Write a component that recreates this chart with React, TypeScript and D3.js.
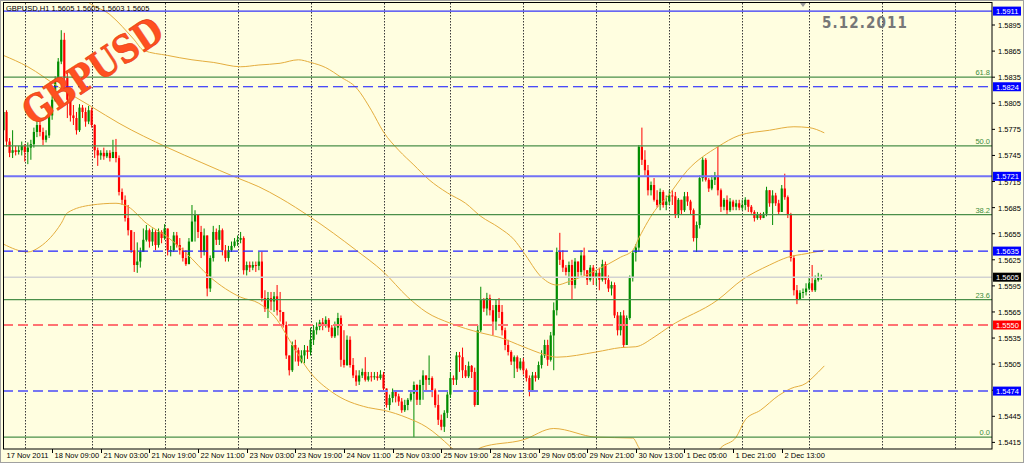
import React, { useEffect } from 'react';
import * as d3 from 'd3';

// GBPUSD H1, 17 Nov - 2 Dec 2011. One value per hourly bar, open = previous close.
const firstOpen = 1.5774;
const closes = [
  1.5795, 1.5761, 1.5748, 1.5751, 1.5749, 1.5751, 1.5756, 1.5749, 1.5754, 1.5758,
  1.5772, 1.578, 1.5772, 1.5763, 1.5768, 1.5791, 1.5809, 1.5832, 1.5853, 1.5878,
  1.5834, 1.5809, 1.5791, 1.5788, 1.5774, 1.58, 1.5795, 1.5784, 1.5797, 1.578,
  1.5751, 1.5745, 1.5748, 1.5744, 1.5748, 1.5742, 1.5749, 1.5742, 1.5703, 1.5694,
  1.5673, 1.5659, 1.5636, 1.5619, 1.5623, 1.5634, 1.5648, 1.5659, 1.5646, 1.5657,
  1.5642, 1.5657, 1.565, 1.5661, 1.5636, 1.5636, 1.5653, 1.5642, 1.5636, 1.5627,
  1.562, 1.5646, 1.5669, 1.5677, 1.5657, 1.5634, 1.5653, 1.5592, 1.5627, 1.5657,
  1.5648, 1.5659, 1.5636, 1.5627, 1.5636, 1.5641, 1.5646, 1.5648, 1.565, 1.5613,
  1.5619, 1.5616, 1.5619, 1.5618, 1.5623, 1.5581, 1.5569, 1.5581, 1.5577, 1.5583,
  1.5567, 1.5565, 1.555, 1.5515, 1.5498, 1.5527, 1.5521, 1.5508, 1.5515, 1.5521,
  1.5519, 1.5533, 1.5544, 1.5548, 1.5553, 1.5551, 1.5556, 1.5547, 1.5537, 1.5547,
  1.5558, 1.551, 1.5504, 1.5533, 1.5504, 1.5492, 1.5485, 1.5492, 1.5496, 1.5487,
  1.5491, 1.549, 1.5491, 1.5489, 1.5493, 1.5477, 1.5458, 1.5466, 1.5473, 1.5468,
  1.5462, 1.5452, 1.5458, 1.5464, 1.5471, 1.5481, 1.5464, 1.5481, 1.5492, 1.5487,
  1.5489, 1.5475, 1.5458, 1.5441, 1.5433, 1.5449, 1.547, 1.5489, 1.5487, 1.5515,
  1.5513, 1.5498, 1.5491, 1.5503, 1.5496, 1.5458, 1.5544, 1.5579, 1.5569, 1.5581,
  1.5567, 1.5554, 1.5573, 1.5565, 1.5544, 1.5527, 1.5519, 1.5508, 1.5513, 1.55,
  1.5508, 1.5498, 1.5489, 1.5473, 1.5492, 1.5489, 1.5504, 1.5515, 1.5527, 1.551,
  1.5538, 1.5567, 1.5634, 1.5625, 1.5616, 1.5611, 1.5619, 1.5596, 1.5623, 1.5611,
  1.563, 1.5613, 1.5602, 1.5616, 1.5604, 1.561, 1.5602, 1.562, 1.5602, 1.5592,
  1.5596, 1.5561, 1.5544, 1.5561, 1.5527, 1.5558, 1.5604, 1.5633, 1.5639, 1.5755,
  1.574, 1.5728, 1.5705, 1.5711, 1.5694, 1.5688, 1.5703, 1.5688, 1.5692, 1.5699,
  1.5698, 1.5677, 1.5694, 1.5682, 1.5698, 1.5692, 1.5682, 1.565, 1.5665, 1.5719,
  1.574, 1.5717, 1.5707, 1.5717, 1.5722, 1.5705, 1.5686, 1.5694, 1.5682, 1.5692,
  1.5686, 1.569, 1.5685, 1.5688, 1.5694, 1.5686, 1.568, 1.5673, 1.5677, 1.5673,
  1.5678, 1.5705, 1.569, 1.5699, 1.569, 1.568, 1.5707, 1.5697, 1.5677, 1.5627,
  1.559, 1.5579, 1.5587, 1.5588, 1.5592, 1.5598, 1.559, 1.5602, 1.5605, 1.5605,
];
const highs = [
  1.58, 1.5797, 1.5765, 1.5774, 1.5756, 1.5756, 1.5761, 1.5758, 1.576, 1.5763,
  1.5777, 1.5786, 1.5784, 1.5777, 1.5774, 1.5797, 1.5813, 1.5836, 1.5857, 1.5889,
  1.5886, 1.5843, 1.5811, 1.5803, 1.5795, 1.5804, 1.5803, 1.58, 1.5802, 1.58,
  1.5781, 1.5754, 1.5751, 1.5754, 1.5751, 1.5751, 1.5763, 1.5764, 1.5745, 1.5707,
  1.5699, 1.5688, 1.5659, 1.5657, 1.5645, 1.5639, 1.5661, 1.5665, 1.5661, 1.5661,
  1.5659, 1.5661, 1.5659, 1.5666, 1.5653, 1.5641, 1.5657, 1.5657, 1.565, 1.5639,
  1.5636, 1.565, 1.5688, 1.5682, 1.5677, 1.5664, 1.5661, 1.5648, 1.563, 1.5664,
  1.5661, 1.5665, 1.5661, 1.5642, 1.5641, 1.5646, 1.565, 1.5653, 1.5657, 1.5652,
  1.5623, 1.5623, 1.5623, 1.5623, 1.5634, 1.5634, 1.559, 1.5588, 1.5588, 1.5588,
  1.5596, 1.5588, 1.5561, 1.5554, 1.5515, 1.5531, 1.5533, 1.5524, 1.5521, 1.5527,
  1.5526, 1.5547, 1.555, 1.5553, 1.5556, 1.5558, 1.556, 1.5558, 1.555, 1.5554,
  1.5564, 1.5561, 1.5544, 1.5538, 1.5537, 1.5512, 1.5498, 1.5498, 1.55, 1.5513,
  1.5496, 1.5496, 1.5496, 1.5496, 1.5498, 1.5496, 1.5477, 1.547, 1.5477, 1.5475,
  1.5471, 1.5466, 1.5464, 1.5466, 1.5475, 1.5485, 1.5482, 1.5487, 1.5498, 1.5492,
  1.5515, 1.5491, 1.5477, 1.547, 1.5447, 1.5452, 1.5475, 1.5496, 1.5492, 1.5519,
  1.5519, 1.5524, 1.5504, 1.5508, 1.5504, 1.5501, 1.555, 1.5594, 1.5581, 1.5587,
  1.5585, 1.5573, 1.5579, 1.5581, 1.5573, 1.5547, 1.5533, 1.5521, 1.5515, 1.5515,
  1.5512, 1.5512, 1.55, 1.5492, 1.5496, 1.5496, 1.5508, 1.5521, 1.5533, 1.5533,
  1.5542, 1.5576, 1.5639, 1.5656, 1.5636, 1.5619, 1.5623, 1.5625, 1.5627, 1.5619,
  1.5636, 1.5639, 1.5611, 1.5619, 1.5619, 1.5613, 1.5616, 1.5625, 1.5623, 1.5607,
  1.56, 1.5599, 1.5565, 1.5565, 1.5567, 1.5561, 1.5607, 1.5636, 1.5643, 1.5757,
  1.5777, 1.5751, 1.5734, 1.5715, 1.5719, 1.5705, 1.5707, 1.5705, 1.5699, 1.5705,
  1.5705, 1.5703, 1.5696, 1.5694, 1.5703, 1.5703, 1.5694, 1.5684, 1.5669, 1.5722,
  1.5743, 1.5742, 1.5719, 1.5722, 1.5726, 1.5755, 1.5707, 1.5696, 1.5699, 1.5696,
  1.5694, 1.5694, 1.5694, 1.5694, 1.5697, 1.5694, 1.5688, 1.5682, 1.568, 1.5679,
  1.568, 1.5709, 1.5703, 1.5705, 1.5702, 1.5694, 1.5711, 1.5724, 1.5699, 1.5679,
  1.563, 1.5596, 1.559, 1.5592, 1.5598, 1.5604, 1.5619, 1.5607, 1.561, 1.5608,
];
const lows = [
  1.5772, 1.5755, 1.5743, 1.5742, 1.5745, 1.5746, 1.5745, 1.5738, 1.5735, 1.574,
  1.5754, 1.5766, 1.5767, 1.5757, 1.576, 1.5765, 1.5786, 1.5807, 1.583, 1.585,
  1.5826, 1.5788, 1.5784, 1.578, 1.5769, 1.5772, 1.5788, 1.5778, 1.5781, 1.5777,
  1.5742, 1.5733, 1.574, 1.574, 1.5742, 1.5738, 1.5742, 1.5737, 1.5699, 1.5688,
  1.5669, 1.5653, 1.5633, 1.5611, 1.561, 1.5616, 1.5634, 1.5646, 1.5639, 1.5641,
  1.5636, 1.5639, 1.5644, 1.5648, 1.563, 1.5629, 1.5634, 1.5639, 1.5631, 1.5623,
  1.5618, 1.5625, 1.5648, 1.5646, 1.565, 1.5627, 1.563, 1.5583, 1.5588, 1.5623,
  1.5642, 1.5642, 1.563, 1.5623, 1.5623, 1.5634, 1.5639, 1.5641, 1.5644, 1.5608,
  1.5607, 1.5611, 1.5613, 1.5611, 1.5613, 1.5577, 1.5565, 1.5558, 1.5567, 1.5565,
  1.5561, 1.5554, 1.5547, 1.5511, 1.5492, 1.5496, 1.5508, 1.5503, 1.5506, 1.5506,
  1.5511, 1.5515, 1.5527, 1.5539, 1.5544, 1.5544, 1.5547, 1.5542, 1.5535, 1.5535,
  1.5538, 1.5502, 1.5501, 1.5503, 1.5501, 1.5489, 1.548, 1.5481, 1.5489, 1.5485,
  1.5485, 1.5485, 1.5487, 1.5486, 1.5487, 1.5473, 1.5455, 1.5452, 1.5461, 1.5461,
  1.5457, 1.5449, 1.545, 1.5452, 1.5462, 1.5421, 1.5458, 1.5458, 1.5464, 1.5473,
  1.5481, 1.5467, 1.5455, 1.5435, 1.5429, 1.5427, 1.5443, 1.5466, 1.5481, 1.5481,
  1.5496, 1.5489, 1.5489, 1.5489, 1.5489, 1.5456, 1.5458, 1.5542, 1.5565, 1.5561,
  1.5561, 1.5538, 1.5544, 1.5558, 1.5538, 1.5521, 1.5515, 1.5504, 1.5489, 1.5496,
  1.5498, 1.5493, 1.5485, 1.5468, 1.5473, 1.5485, 1.5487, 1.55, 1.5512, 1.5503,
  1.5508, 1.5498, 1.5561, 1.5619, 1.5611, 1.5607, 1.5596, 1.5579, 1.5592, 1.5604,
  1.5607, 1.5607, 1.5596, 1.56, 1.5596, 1.5596, 1.559, 1.56, 1.5597, 1.5588,
  1.5584, 1.5558, 1.5538, 1.5538, 1.5524, 1.5527, 1.5556, 1.56, 1.5623, 1.5634,
  1.5734, 1.5722, 1.5699, 1.5699, 1.5692, 1.5685, 1.5682, 1.5685, 1.5682, 1.5688,
  1.5688, 1.5673, 1.5673, 1.5677, 1.568, 1.5687, 1.5677, 1.5646, 1.5634, 1.5661,
  1.5715, 1.5715, 1.5703, 1.5705, 1.5711, 1.5699, 1.568, 1.5682, 1.5677, 1.568,
  1.5682, 1.5682, 1.5682, 1.5682, 1.5682, 1.568, 1.5678, 1.5669, 1.5671, 1.5671,
  1.5673, 1.5675, 1.5686, 1.5665, 1.5687, 1.5677, 1.568, 1.5694, 1.5673, 1.5623,
  1.5584, 1.5574, 1.5581, 1.5581, 1.5584, 1.559, 1.5588, 1.5588, 1.56, 1.5602,
];

// envelope / band indicator, sampled at bar indices
const upperBars = [22, 27, 35, 43, 46, 54, 62, 69, 78, 84, 91, 97, 101, 106, 111, 116, 121, 125, 130, 135, 140, 146, 152, 157, 163, 168, 171, 177, 182, 186, 195, 203, 207, 209, 215, 218, 225, 235, 242, 252, 260, 265, 270];
const upperVals = [1.5947, 1.5924, 1.5907, 1.5878, 1.5866, 1.586, 1.5855, 1.5852, 1.5847, 1.5849, 1.5851, 1.5855, 1.5852, 1.5846, 1.5835, 1.5823, 1.5797, 1.5772, 1.5751, 1.5734, 1.5717, 1.5702, 1.569, 1.5675, 1.5662, 1.5648, 1.5634, 1.5605, 1.5596, 1.56, 1.5613, 1.5628, 1.5636, 1.565, 1.5685, 1.5696, 1.5728, 1.5755, 1.5768, 1.5774, 1.5778, 1.5777, 1.5771];
const middleBars = [0, 8, 18, 29, 38, 54, 65, 77, 84, 91, 101, 116, 125, 133, 139, 147, 157, 163, 171, 178, 182, 195, 203, 208, 214, 219, 235, 243, 252, 258, 264, 270];
const middleVals = [1.586, 1.5847, 1.5824, 1.5801, 1.5782, 1.5754, 1.5737, 1.5719, 1.5709, 1.5696, 1.5674, 1.5636, 1.5611, 1.5582, 1.5565, 1.5552, 1.5541, 1.5536, 1.5525, 1.5516, 1.5513, 1.5519, 1.5524, 1.5525, 1.5536, 1.5548, 1.5579, 1.5602, 1.5619, 1.5628, 1.5632, 1.5636];
const lowerBars = [0, 8, 12, 19, 21, 29, 37, 41, 47, 54, 60, 68, 78, 84, 90, 94, 101, 108, 120, 125, 133, 139, 147, 150, 153, 157, 171, 181, 195, 207, 209, 216, 229, 236, 241, 244, 249, 255, 259, 264, 266, 270];
const lowerVals = [1.5643, 1.5634, 1.564, 1.5667, 1.5679, 1.5688, 1.569, 1.5686, 1.5667, 1.5651, 1.5633, 1.5605, 1.5582, 1.5575, 1.5556, 1.5533, 1.5495, 1.5473, 1.5455, 1.5452, 1.5443, 1.5433, 1.541, 1.54, 1.5397, 1.5409, 1.5418, 1.5431, 1.5421, 1.542, 1.5409, 1.5372, 1.5372, 1.5409, 1.5421, 1.5441, 1.5452, 1.5469, 1.5477, 1.5483, 1.5489, 1.5503];

const levelPrices = [1.5911, 1.5824, 1.5721, 1.5635, 1.5605, 1.555, 1.5474];
const fibLow = 1.5421;
const fibHigh = 1.6091;
const fibRatios = [0, 23.6, 38.2, 50, 61.8];

const priceTicks = ['1.5415', '1.5445', '1.5475', '1.5505', '1.5535', '1.5565', '1.5595', '1.5625', '1.5655', '1.5685', '1.5715', '1.5745', '1.5775', '1.5805', '1.5835', '1.5865', '1.5895'];
const timeLabels = ['17 Nov 2011', '18 Nov 09:00', '21 Nov 03:00', '21 Nov 19:00', '22 Nov 11:00', '23 Nov 03:00', '23 Nov 19:00', '24 Nov 11:00', '25 Nov 03:00', '25 Nov 19:00', '28 Nov 13:00', '29 Nov 05:00', '29 Nov 21:00', '30 Nov 13:00', '1 Dec 05:00', '1 Dec 21:00', '2 Dec 13:00'];
const barsPerLabel = 16;
const dayStartBars = [7, 29, 53, 77, 101, 125, 147, 171, 195, 219, 243, 265, 289, 313];

const levelStyles = [
  { stroke: '#0000ff', width: 1, dash: undefined, box: '#0000ff' },
  { stroke: '#1010ff', width: 1.2, dash: '10,5', box: '#0000ff' },
  { stroke: '#7272f6', width: 2, dash: undefined, box: '#0000ff' },
  { stroke: '#2222ff', width: 1.2, dash: '10,5', box: '#0000ff' },
  { stroke: '#d2d2d2', width: 1.5, dash: undefined, box: '#000000' },
  { stroke: '#ff7272', width: 2, dash: '10,5', box: '#ff0000' },
  { stroke: '#7676f2', width: 2, dash: '10,5', box: '#0000ff' },
];

const W = 1024;
const H = 463;
const left = 3;
const right = 992;
const top = 3;
const bottom = 449;
const font = 'Liberation Sans, Arial, sans-serif';

export default function App() {
  useEffect(() => {
    document.body.style.margin = '0';
  }, []);

  const x = d3.scaleLinear().domain([0, 320]).range([3.5, 3.5 + 3.04 * 320]);
  const y = d3.scaleLinear().domain([1.5415, 1.5911]).range([442.4, 11.1]);

  const bandLine = d3.line<[number, number]>()
    .x(d => x(d[0]))
    .y(d => y(d[1]))
    .curve(d3.curveMonotoneX);

  const bands = [
    d3.zip(upperBars, upperVals) as [number, number][],
    d3.zip(middleBars, middleVals) as [number, number][],
    d3.zip(lowerBars, lowerVals) as [number, number][],
  ];

  const candles = closes.map((c, i) => {
    const o = i === 0 ? firstOpen : closes[i - 1];
    return { i, o, c, h: Math.max(highs[i], o, c), l: Math.min(lows[i], o, c) };
  });

  return (
    <svg width={W} height={H} style={{ position: 'absolute', left: 0, top: 0, display: 'block' }}>
      <defs>
        <clipPath id="plot">
          <rect x={left} y={top} width={right - left} height={bottom - top} />
        </clipPath>
      </defs>
      <rect x={0} y={0} width={W} height={H} fill="#fffee0" />
      <rect x={0.5} y={0.5} width={W - 1} height={H - 1} fill="none" stroke="#a0a0a0" />

      {/* day separators */}
      <g stroke="#3a3a3a" strokeDasharray="1.5,1.5" clipPath="url(#plot)">
        {dayStartBars.map(b => (
          <line key={b} x1={Math.round(x(b)) + 0.5} x2={Math.round(x(b)) + 0.5} y1={top} y2={bottom} />
        ))}
      </g>

      {/* candles */}
      <g clipPath="url(#plot)">
        {candles.map(d => {
          const up = d.c >= d.o;
          const col = up ? '#008c00' : '#ff0000';
          const cx = x(d.i);
          const y0 = y(Math.max(d.o, d.c));
          const y1 = y(Math.min(d.o, d.c));
          return (
            <g key={d.i}>
              <line x1={cx} x2={cx} y1={y(d.h)} y2={y(d.l)} stroke={col} strokeWidth={1} />
              <rect x={cx - 1.1} y={y0} width={2.2} height={Math.max(1, y1 - y0)} fill={col} />
            </g>
          );
        })}
      </g>

      {/* bands */}
      <g clipPath="url(#plot)" fill="none" stroke="#e4ad3e" strokeWidth={1}>
        {bands.map((b, i) => <path key={i} d={bandLine(b) || ''} />)}
      </g>

      {/* fibonacci levels */}
      <g clipPath="url(#plot)">
        {fibRatios.map(r => {
          const py = y(fibLow + (fibHigh - fibLow) * r / 100);
          return (
            <g key={r}>
              <line x1={left} x2={right} y1={py} y2={py} stroke="#4a8f4a" strokeWidth={1.3} />
              <text x={right - 2} y={py - 2} textAnchor="end" fontFamily={font} fontSize={7.5} fill="#3c8c3c">{r.toFixed(1)}</text>
            </g>
          );
        })}
      </g>

      {/* horizontal levels */}
      <g clipPath="url(#plot)">
        {levelPrices.map((p, i) => {
          const s = levelStyles[i];
          return (
            <line key={p} x1={left} x2={right} y1={y(p)} y2={y(p)} stroke={s.stroke} strokeWidth={s.width} strokeDasharray={s.dash} />
          );
        })}
      </g>

      {/* watermark texts */}
      <text transform="translate(100,82) rotate(-34)" textAnchor="middle" fontFamily="DejaVu Serif, serif" fontWeight="bold" fontSize={38} fill="#ff5020" stroke="#e23a10" strokeWidth={0.6} textLength={160} lengthAdjust="spacingAndGlyphs">GBPUSD</text>
      <text x={822} y={28} fontFamily="DejaVu Sans Condensed, DejaVu Sans, sans-serif" fontWeight="bold" fontSize={15} fill="#777777" textLength={85} lengthAdjust="spacing">5.12.2011</text>
      <text x={6} y={11} fontFamily={font} fontSize={7.5} fill="#000">GBPUSD,H1  1.5605 1.5605 1.5603 1.5605</text>
      <path d="M800,3 L806,3 L803,7 Z" fill="#9a9a9a" />

      {/* plot frame */}
      <rect x={left + 0.5} y={top - 0.5} width={right - left - 0.5} height={bottom - top + 0.5} fill="none" stroke="#000" strokeWidth={1} />

      {/* price axis */}
      <g fontFamily={font} fontSize={7.5} fill="#000">
        {priceTicks.map(t => {
          const py = y(+t);
          return (
            <g key={t}>
              <line x1={right} x2={right + 3} y1={py} y2={py} stroke="#000" />
              <text x={998} y={py + 3}>{t}</text>
            </g>
          );
        })}
      </g>
      <g fontFamily={font} fontSize={7.5}>
        {levelPrices.map((p, i) => {
          const py = y(p);
          return (
            <g key={p}>
              <rect x={993} y={py - 4.5} width={28} height={9} fill={levelStyles[i].box} />
              <text x={996} y={py + 3} fill="#fff">{p.toFixed(4)}</text>
            </g>
          );
        })}
      </g>

      {/* time axis */}
      <g fontFamily={font} fontSize={7.5} fill="#000">
        {timeLabels.map((t, i) => {
          const px = Math.round(x(i * barsPerLabel)) + 0.5;
          return (
            <g key={t}>
              {i > 0 && <line x1={px} x2={px} y1={bottom} y2={bottom + 4} stroke="#000" />}
              <text x={px + 2} y={458}>{t}</text>
            </g>
          );
        })}
      </g>
    </svg>
  );
}
